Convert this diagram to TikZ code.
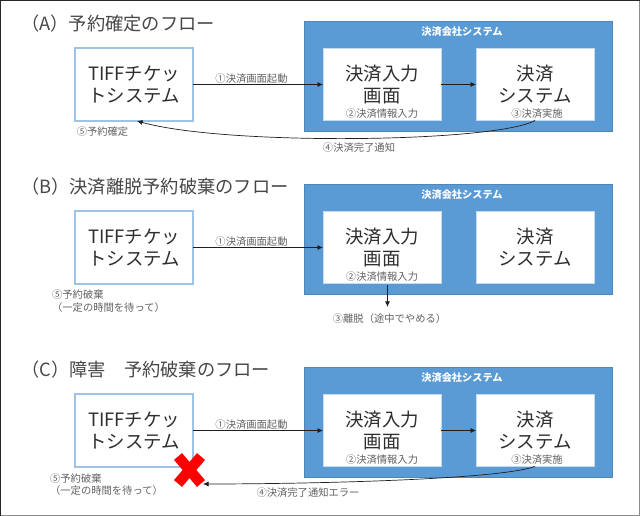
\documentclass[tikz,border=0pt]{standalone}
\usepackage{fontspec}
\setmainfont{Noto Sans CJK JP}
\usetikzlibrary{positioning,arrows.meta,shapes.misc}
\setlength{\lineskiplimit}{-20pt}
\setlength{\normallineskiplimit}{-20pt}
\definecolor{paneblue}{HTML}{5B9BD5}
\definecolor{paneedge}{HTML}{4F86B8}
\definecolor{boxedge}{HTML}{9DC3E6}
\tikzset{
  heading/.style={anchor=west, inner sep=0pt, text=black!72, font=\fontsize{18.25}{23}\selectfont},
  module/.style={align=center, outer sep=0pt, inner sep=0pt, fill=white, text=black!82, font=\fontsize{18.4}{22}\selectfont},
  ticket module/.style={module, draw=boxedge, line width=1.3pt, minimum width=118pt, minimum height=73pt},
  pay module/.style={module, draw=boxedge!60, line width=.5pt, minimum width=118pt, minimum height=72pt},
  company/.style={outer sep=0pt, inner sep=0pt, fill=paneblue, draw=paneedge, line width=.7pt, minimum width=308pt, minimum height=110pt},
  company title/.style={inner sep=0pt, text=white, font=\fontsize{10.2}{12}\selectfont\bfseries},
  note/.style={align=left, inner sep=0pt, text=black!62, font=\fontsize{10.3}{12.5}\selectfont},
  flow/.style={-{Latex[length=5.5pt,width=5pt]}, black!88, line width=.7pt},
}
\begin{document}
\begin{tikzpicture}[x=1pt,y=-1pt]
\useasboundingbox (0,0) rectangle (640,516);
\node [draw=black!45, line width=1pt, outer sep=0pt, inner sep=0pt, minimum width=639pt, minimum height=515pt, anchor=north west] (frame) at (.5,.5) {};
\draw [black!85, line width=1.2pt] (frame.south west) |- (frame.north east);
% the nodes, flow A
\node [heading] (titleA) at (21,24) {（A）予約確定のフロー};
\node [company, anchor=north west] (sysA) at (304,21) {};
\node [company title, below=6pt of sysA.north, xshift=4pt] (nameA) {決済会社システム};
\node [ticket module, anchor=north west] (tiffA) at (75,48) {TIFFチケッ\\トシステム};
\node [pay module, right=130pt of tiffA] (inputA) {決済入力\\画面};
\node [pay module, right=35pt of inputA] (payA) {決済\\システム};
\node [note, above=2pt of inputA.south] (entryA) {②決済情報入力};
\node [note, above=2pt of payA.south, xshift=2pt] (doneA) {③決済実施};
\node [note] (fixA) at (102.5,132) {⑤予約確定};
\node [note] (tellA) at (359,148) {④決済完了通知};
% flow B
\node [heading] (titleB) at (21,187) {（B）決済離脱予約破棄のフロー};
\node [company, below=53pt of sysA] (sysB) {};
\node [company title, below=6pt of sysB.north, xshift=4pt] (nameB) {決済会社システム};
\node [ticket module, below=90pt of tiffA] (tiffB) {TIFFチケッ\\トシステム};
\node [pay module, right=130pt of tiffB] (inputB) {決済入力\\画面};
\node [pay module, right=35pt of inputB] (payB) {決済\\システム};
\node [note, above=2pt of inputB.south] (entryB) {②決済情報入力};
\node [note] (dropB) at (108.5,301) {⑤予約破棄\\（一定の時間を待って）};
\node [note] (leaveB) at (389.5,319) {③離脱（途中でやめる）};
\coordinate [above=7pt of leaveB, xshift=-2pt] (exitB);
% flow C
\node [heading] (titleC) at (21,370) {（C）障害　予約破棄のフロー};
\node [company, below=73pt of sysB] (sysC) {};
\node [company title, below=6pt of sysC.north, xshift=4pt] (nameC) {決済会社システム};
\node [ticket module, below=110pt of tiffB] (tiffC) {TIFFチケッ\\トシステム};
\node [pay module, right=130pt of tiffC] (inputC) {決済入力\\画面};
\node [pay module, right=35pt of inputC] (payC) {決済\\システム};
\node [note, above=2pt of inputC.south] (entryC) {②決済情報入力};
\node [note, above=2pt of payC.south, xshift=2pt] (doneC) {③決済実施};
\node [note] (dropC) at (106.5,484.5) {⑤予約破棄\\（一定の時間を待って）};
\node [note] (tellC) at (308,493) {④決済完了通知エラー};
\node [cross out, draw=red, line width=10.5pt, outer sep=0pt, minimum width=23pt, minimum height=27pt, inner sep=0pt] (failC) at (189.5,470) {};
\coordinate (stopC) at (203,484);
%drawings of vectors
\draw [flow] (tiffA.east) -- node [note, above=1pt, pos=.45] (openA) {①決済画面起動} (inputA.west);
\draw [flow] (inputA.east) -- (payA.west);
\draw [flow] (payA.south) .. controls +(-40,22) and +(90,25) .. ([xshift=3pt]tiffA.south);

\draw [flow] (tiffB.east) -- node [note, above=1pt, pos=.45] (openB) {①決済画面起動} (inputB.west);
\draw [flow, shorten <=1.5pt] (inputB.south -| exitB) -- (exitB);

\draw [flow] (tiffC.east) -- node [note, above=1pt, pos=.45] (openC) {①決済画面起動} (inputC.west);
\draw [flow] (inputC.east) -- (payC.west);
\draw [flow] (payC.south) .. controls +(-40,14) and +(90,0) .. (stopC);
\end{tikzpicture}
\end{document}
